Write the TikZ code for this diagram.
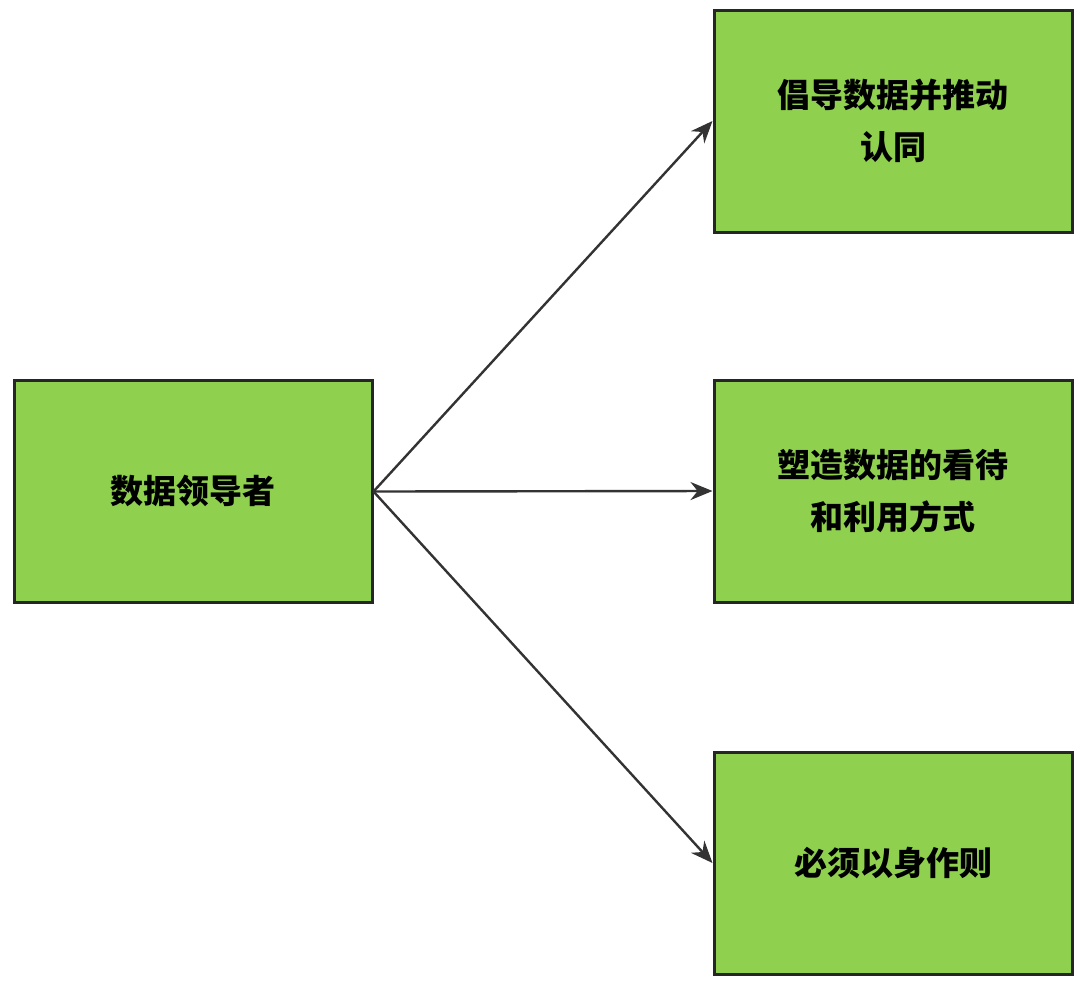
\documentclass[tikz,border=0pt]{standalone}
\usepackage{fontspec}
\newfontfamily\cjk{Noto Sans CJK SC}
\usetikzlibrary{arrows.meta,positioning}
\definecolor{boxgreen}{HTML}{8FD14F}
\tikzset{
  box/.style={draw=black!85,line width=1.5pt,fill=boxgreen,minimum width=179pt,minimum height=111pt,
    align=center,font=\cjk\bfseries\fontsize{16.5pt}{26pt}\selectfont,text width=150pt},
  link/.style={draw=black!80,line width=1.2pt,-{Stealth[length=11pt,width=9pt]}}
}
\begin{document}
\begin{tikzpicture}[x=0.5pt,y=-0.5pt]
\useasboundingbox (0,0) rectangle (1087,992);
\node[box] (leader) at (193,491.5) {数据领导者};
\node[box] (advocate) at (893,121) {倡导数据并推动\\认同};
\node[box] (shape) at (893,491) {塑造数据的看待\\和利用方式};
\node[box] (example) at (893,863) {必须以身作则};
\draw[link] (leader.east) -- (advocate.west);
\draw[link] (leader.east) -- (shape.west);
\draw[link] (leader.east) -- (example.west);
\end{tikzpicture}
\end{document}
